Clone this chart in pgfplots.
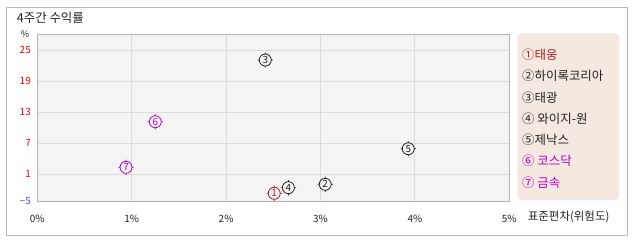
\documentclass[border=0pt]{standalone}
\usepackage{fontspec}
\setmainfont{Noto Sans CJK KR}
\usepackage{pgfplots}
\pgfplotsset{compat=1.18}
\definecolor{bgc}{HTML}{F4F4F4}
\definecolor{gridc}{HTML}{DCDCDC}
\definecolor{framec}{HTML}{BBBBBB}
\definecolor{axisc}{HTML}{B4B4B4}
\definecolor{legc}{HTML}{F5E8E0}
\definecolor{redc}{HTML}{B01E1E}
\definecolor{magc}{HTML}{B000C0}
\definecolor{darkc}{HTML}{222222}
\definecolor{tickred}{HTML}{FF0000}
\definecolor{tickblue}{HTML}{4A4AFF}
\pgfdeclareplotmark{cnum}{%
  \pgfpathcircle{\pgfpointorigin}{\pgfplotmarksize}%
  \pgfpathmoveto{\pgfpoint{0pt}{\pgfplotmarksize}}\pgfpathlineto{\pgfpoint{0pt}{\pgfplotmarksize+1.6bp}}%
  \pgfpathmoveto{\pgfpoint{0pt}{-\pgfplotmarksize}}\pgfpathlineto{\pgfpoint{0pt}{-\pgfplotmarksize-1.6bp}}%
  \pgfpathmoveto{\pgfpoint{\pgfplotmarksize}{0pt}}\pgfpathlineto{\pgfpoint{\pgfplotmarksize+1.6bp}{0pt}}%
  \pgfpathmoveto{\pgfpoint{-\pgfplotmarksize}{0pt}}\pgfpathlineto{\pgfpoint{-\pgfplotmarksize-1.6bp}{0pt}}%
  \pgfusepathqstroke}
\begin{document}
\begin{tikzpicture}
\path[use as bounding box] (-37.3bp,-41bp) rectangle (600.7bp,201bp);
\draw[framec, line width=1bp] (-31bp,-34.3bp) rectangle (590.4bp,193.7bp);
\begin{axis}[
  at={(0,0)}, anchor=south west,
  width=472bp, height=166.7bp, scale only axis,
  xmin=0, xmax=5, ymin=-4.17, ymax=28.1,
  xtick={0,1,2,3,4,5},
  xticklabels={0\%,1\%,2\%,3\%,4\%,5\%},
  ytick={-4.17,1,7,13,19,25},
  yticklabels={\textcolor{tickblue}{−5},\textcolor{tickred}{1},\textcolor{tickred}{7},\textcolor{tickred}{13},\textcolor{tickred}{19},\textcolor{tickred}{25}},
  major tick length=0pt,
  grid=major,
  grid style={gridc, line width=0.9bp},
  axis line style={axisc, line width=1bp},
  axis background/.style={fill=bgc},
  ticklabel style={font=\fontsize{10}{12}\selectfont},
  xticklabel style={yshift=-11bp, text=darkc},
  yticklabel style={xshift=-3bp},
  mark size=6bp,
  clip=false,
  point meta=explicit symbolic,
  nodes near coords={\pgfplotspointmeta},
  nodes near coords style={anchor=center, font=\fontsize{10}{12}\selectfont, inner sep=0pt},
]
\addplot[only marks, mark=cnum, redc, line width=0.8bp, nodes near coords style={text=redc}] coordinates {(2.51,-2.68) [1]};
\addplot[only marks, mark=cnum, darkc, line width=0.8bp] coordinates {(3.05,-0.94) [2]};
\addplot[only marks, mark=cnum, darkc, line width=0.8bp] coordinates {(2.415,23.12) [3]};
\addplot[only marks, mark=cnum, darkc, line width=0.8bp] coordinates {(2.66,-1.59) [4]};
\addplot[only marks, mark=cnum, darkc, line width=0.8bp] coordinates {(3.93,5.95) [5]};
\addplot[only marks, mark=cnum, magc, line width=0.8bp, nodes near coords style={text=magc}] coordinates {(1.25,11.18) [6]};
\addplot[only marks, mark=cnum, magc, line width=0.8bp, nodes near coords style={text=magc}] coordinates {(0.94,2.35) [7]};
\end{axis}
\node[anchor=west, inner sep=0pt, text=darkc, font=\fontsize{12.5}{14}\selectfont] at (-20.6bp,183bp) {4주간 수익률};
\node[anchor=center, inner sep=0pt, text=darkc, font=\fontsize{9}{11}\selectfont] at (-12.3bp,167bp) {\%};
\node[anchor=west, inner sep=0pt, text=darkc, font=\fontsize{11.5}{13}\selectfont] at (490.4bp,-15.7bp) {표준편차(위험도)};
\fill[legc, rounded corners=4bp] (480bp,1bp) rectangle (582bp,167.7bp);
\begin{scope}[every node/.style={anchor=west, inner sep=0pt, font=\fontsize{12.5}{14}\selectfont}]
\node[text=redc] at (484.7bp,146bp) {①태웅};
\node[text=darkc] at (484.7bp,124.75bp) {②하이록코리아};
\node[text=darkc] at (484.7bp,103.5bp) {③태광};
\node[text=darkc] at (484.7bp,82.25bp) {④ 와이지-원};
\node[text=darkc] at (484.7bp,61bp) {⑤제낙스};
\node[text=magc] at (484.7bp,39.75bp) {⑥ 코스닥};
\node[text=magc] at (484.7bp,18.5bp) {⑦ 금속};
\end{scope}
\end{tikzpicture}
\end{document}
